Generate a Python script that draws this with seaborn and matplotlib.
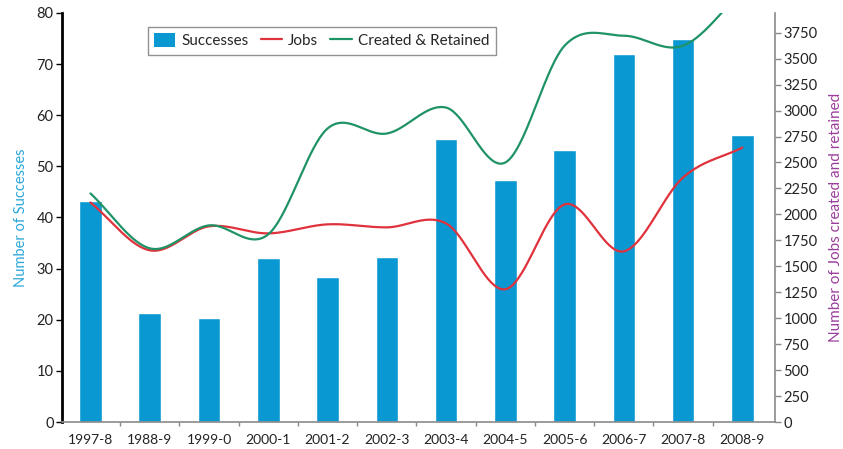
import numpy as np
import pandas as pd
import matplotlib
matplotlib.use("Agg")
import matplotlib.pyplot as plt
from matplotlib.patches import Patch
from matplotlib.lines import Line2D
import seaborn as sns

# Yearly figures
years = ["1997-8", "1988-9", "1999-0", "2000-1", "2001-2", "2002-3",
         "2003-4", "2004-5", "2005-6", "2006-7", "2007-8", "2008-9"]
successes = [43.2, 21.3, 20.3, 32.0, 28.3, 32.2, 55.4, 47.4, 53.3, 72.0, 75.0, 56.2]
jobs = [2115, 1654, 1885, 1817, 1904, 1875, 1913, 1279, 2096, 1644, 2356, 2644]
created_retained = [2202, 1673, 1894, 1808, 2827, 2779, 3029, 2500, 3625, 3721, 3625, 4150]

BAR_C = "#0a98d2"
JOBS_C = "#e0323c"
CR_C = "#1f9366"

sns.set_theme(style="white")
plt.rcParams["font.family"] = ["Lato", "DejaVu Sans"]


def smooth(values, n=40):
    """Cubic Hermite (Catmull-Rom) curve through the points at x = 0..len-1."""
    y = np.asarray(values, dtype=float)
    k = len(y)
    m = np.empty(k)
    m[1:-1] = (y[2:] - y[:-2]) / 2.0
    m[0] = y[1] - y[0]
    m[-1] = y[-1] - y[-2]
    xs, ys = [], []
    for i in range(k - 1):
        t = np.linspace(0, 1, n, endpoint=(i == k - 2))
        h00 = 2 * t**3 - 3 * t**2 + 1
        h10 = t**3 - 2 * t**2 + t
        h01 = -2 * t**3 + 3 * t**2
        h11 = t**3 - t**2
        xs.append(i + t)
        ys.append(h00 * y[i] + h10 * m[i] + h01 * y[i + 1] + h11 * m[i + 1])
    return np.concatenate(xs), np.concatenate(ys)


fig = plt.figure(figsize=(8.43, 4.49), dpi=100)
ax = fig.add_axes([62 / 843, 1 - 422 / 449, (775 - 62) / 843, (422 - 13) / 449])

df = pd.DataFrame({"year": years, "successes": successes})
sns.barplot(data=df, x="year", y="successes", color=BAR_C, saturation=1,
            width=0.38, ax=ax, zorder=2)

ax.set_xlim(-0.48, 11.55)
ax.set_ylim(0, 80)
ax.set_yticks(range(0, 81, 10))
ax.set_xlabel("")
ax.set_ylabel("Number of Successes", color="#2ba7d9", fontsize=10.5, labelpad=6)
ax.tick_params(axis="y", which="major", left=True, length=4, width=1,
               color="black", labelsize=10.5, pad=2, labelcolor="#222222")
ax.tick_params(axis="x", which="major", bottom=False, labelsize=10,
               pad=3, labelcolor="#222222")
ax.set_xticks(np.arange(0.5, 11, 1), minor=True)
ax.tick_params(axis="x", which="minor", bottom=True, length=3, width=1,
               color="#888888")

for side in ("top", "right"):
    ax.spines[side].set_visible(False)
ax.spines["left"].set_color("black")
ax.spines["left"].set_linewidth(2)
ax.spines["bottom"].set_color("#8a8a8a")
ax.spines["bottom"].set_linewidth(1.2)

ax2 = ax.twinx()
xj, yj = smooth(jobs)
xc, yc = smooth(created_retained)
line_df = pd.DataFrame({
    "pos": np.concatenate([xj, xc]),
    "value": np.concatenate([yj, yc]),
    "series": ["Jobs"] * len(xj) + ["Created & Retained"] * len(xc),
})
sns.lineplot(data=line_df, x="pos", y="value", hue="series",
             palette={"Jobs": JOBS_C, "Created & Retained": CR_C},
             linewidth=1.6, estimator=None, sort=False, legend=False, ax=ax2)
ax2.set_xlim(-0.48, 11.55)
ax2.set_ylim(0, 3940)
ax2.set_yticks(range(0, 3751, 250))
ax2.set_xlabel("")
ax2.set_ylabel("Number of Jobs created and retained", color="#9a3e9c",
               fontsize=11, labelpad=8)
ax2.tick_params(axis="y", right=True, length=4, width=1, color="#888888",
                labelsize=10.5, pad=2, labelcolor="#222222")
for side in ("top", "left", "bottom"):
    ax2.spines[side].set_visible(False)
ax2.spines["right"].set_color("#8a8a8a")
ax2.spines["right"].set_linewidth(1.2)

handles = [
    Patch(facecolor=BAR_C, edgecolor="none", label="Successes"),
    Line2D([0], [0], color=JOBS_C, lw=1.6, label="Jobs"),
    Line2D([0], [0], color=CR_C, lw=1.6, label="Created & Retained"),
]
leg = ax2.legend(handles=handles, loc="upper left", bbox_to_anchor=(0.12, 0.965),
                 ncol=3, frameon=True, fancybox=False, fontsize=11,
                 handlelength=1.4, handleheight=1.0, handletextpad=0.4,
                 columnspacing=0.8, borderpad=0.4, borderaxespad=0)
leg.get_frame().set_edgecolor("#777777")
leg.get_frame().set_linewidth(1.0)

fig.savefig("out.png", dpi=100)
